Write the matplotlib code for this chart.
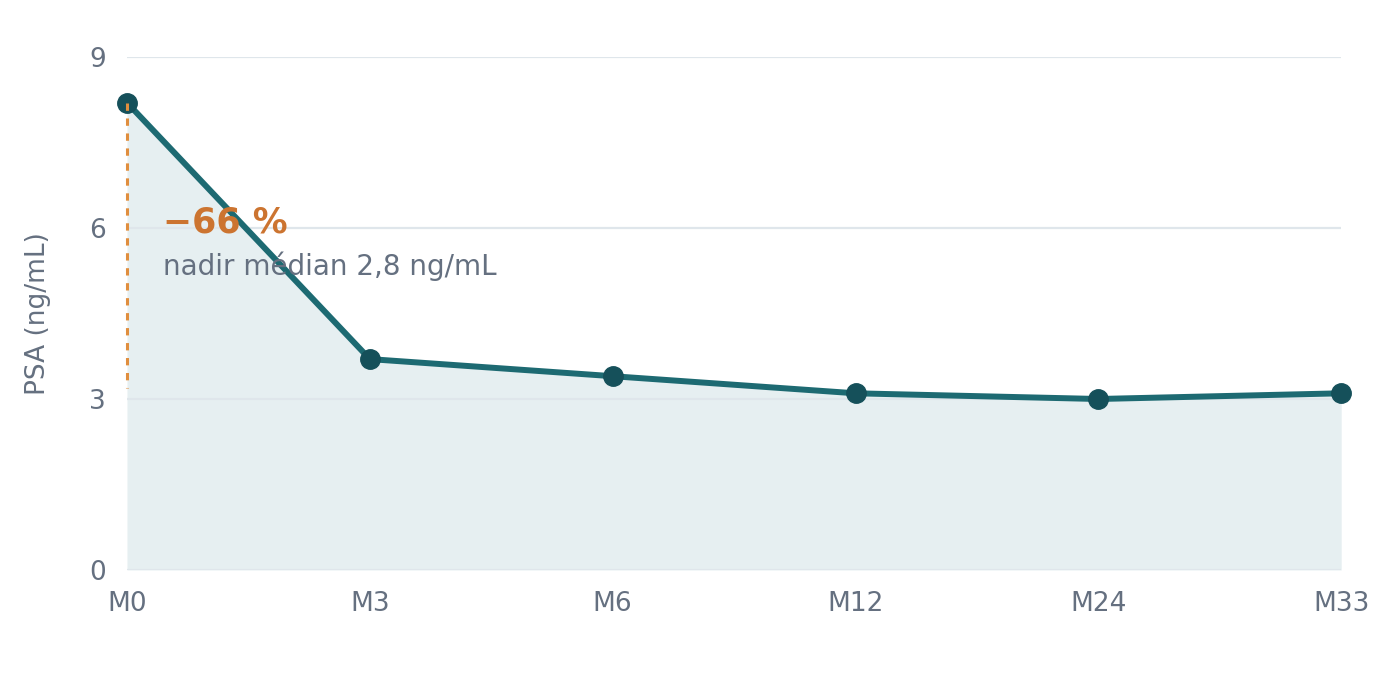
import matplotlib
matplotlib.use("Agg")
import matplotlib.pyplot as plt

# PSA median over follow-up
months = ["M0", "M3", "M6", "M12", "M24", "M33"]
psa = [8.2, 3.7, 3.4, 3.1, 3.0, 3.1]
drop_label = "\u221266 %"
drop_note = "nadir médian 2,8 ng/mL"
drop_end = 3.2

line_col = "#1d6a72"
dot_col = "#15505a"
fill_col = "#e6eff1"
orange = "#cc7430"
dash_col = "#e08e3e"
grey = "#657080"
FONT = "DejaVu Sans"

plt.rcParams["font.family"] = [FONT]

fig = plt.figure(figsize=(14, 6.98), dpi=100)
ax = fig.add_axes([0.0907, 0.1834, 0.8673, 0.7349])

x = list(range(len(months)))
ax.fill_between(x, 0, psa, color=fill_col, zorder=1, linewidth=0)
ax.plot(x, psa, color=line_col, linewidth=4.3, zorder=3, clip_on=False)
ax.plot(x, psa, "o", color=dot_col, markersize=14, zorder=4, clip_on=False)

# dashed drop marker at M0
ax.plot([x[0], x[0]], [psa[0], drop_end], color=dash_col, linestyle=(0, (2.4, 2.5)),
        linewidth=2.2, zorder=5, clip_on=False)
ax.text(0.148, 5.93, drop_label, color=orange, fontsize=25, fontweight="bold",
        family=FONT, ha="left", va="baseline", zorder=6)
ax.text(0.148, 5.17, drop_note, color=grey, fontsize=20, family=FONT,
        ha="left", va="baseline", zorder=6)

ax.set_xlim(0, len(months) - 1)
ax.set_ylim(0, 9)
ax.set_yticks([0, 3, 6, 9])
ax.set_xticks(x)
ax.set_xticklabels(months, family=FONT)
ax.set_yticklabels(["0", "3", "6", "9"], family=FONT)
ax.tick_params(axis="both", length=0, labelsize=19, labelcolor=grey)
ax.tick_params(axis="x", pad=15)
ax.tick_params(axis="y", pad=15)
ax.set_ylabel("PSA (ng/mL)", fontsize=19, color=grey, labelpad=28, family=FONT)

ax.set_axisbelow("line")
ax.grid(axis="y", color="#dfe6eb", linewidth=1.6)
for s in ax.spines.values():
    s.set_visible(False)

fig.savefig("out.png", dpi=100, facecolor="white")
